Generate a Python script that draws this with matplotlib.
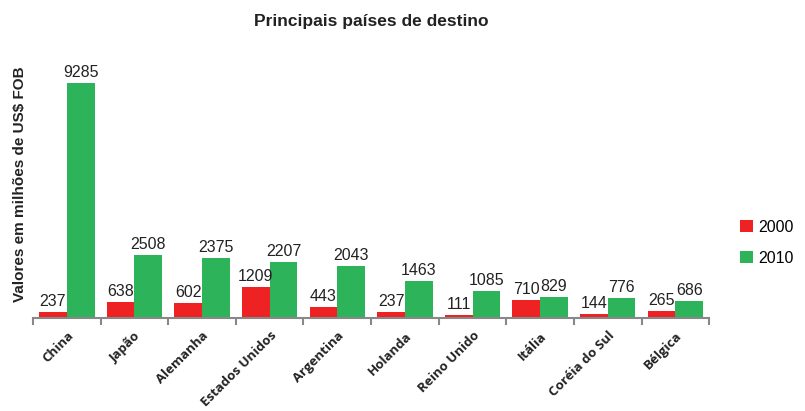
import matplotlib
matplotlib.use("Agg")
import matplotlib.pyplot as plt
import numpy as np

paises = ["China", "Japão", "Alemanha", "Estados Unidos", "Argentina",
          "Holanda", "Reino Unido", "Itália", "Coréia do Sul", "Bélgica"]
v2000 = [237, 638, 602, 1209, 443, 237, 111, 710, 144, 265]
v2010 = [9285, 2508, 2375, 2207, 2043, 1463, 1085, 829, 776, 686]

RED = "#ee2222"
GREEN = "#2db35a"

fig = plt.figure(figsize=(8.05, 4.11), dpi=100)
fig.patch.set_facecolor("white")
ax = fig.add_axes([0.041, 0.226, 0.840, 0.678])

x = np.arange(len(paises))
w = 0.41
b1 = ax.bar(x - w / 2, v2000, w, color=RED, label="2000")
b2 = ax.bar(x + w / 2, v2010, w, color=GREEN, label="2010")

for bars, vals in ((b1, v2000), (b2, v2010)):
    for r, v in zip(bars, vals):
        ax.text(r.get_x() + r.get_width() / 2, v + 120, str(v),
                ha="center", va="bottom", fontsize=11.5, color="#222222",
                family="Liberation Sans")

ax.set_xlim(-0.5, len(paises) - 0.5)
ax.set_ylim(0, 11000)
for s in ("top", "right", "left"):
    ax.spines[s].set_visible(False)
ax.spines["bottom"].set_color("#888888")
ax.spines["bottom"].set_linewidth(1.5)
ax.set_yticks([])

# tick marks at category boundaries, labels at centers
ax.set_xticks(np.arange(len(paises) + 1) - 0.5)
ax.set_xticklabels([])
ax.tick_params(axis="x", which="major", length=5, width=1.5, color="#888888")
ax.set_xticks(x, minor=True)
ax.set_xticklabels(paises, minor=True, rotation=45, ha="right",
                   rotation_mode="anchor", fontsize=9.5, fontweight="bold",
                   family="Open Sans", color="#222222")
ax.tick_params(axis="x", which="minor", length=0, pad=8)

ax.set_ylabel("Valores em milhões de US$ FOB", fontsize=11, fontweight="bold",
              family="Liberation Sans", color="#222222", labelpad=4, y=0.48)

fig.text(0.461, 0.947, "Principais países de destino", ha="center", va="center",
         fontsize=12.5, fontweight="bold", family="Liberation Sans", color="#222222")

ax.legend(loc="center left", bbox_to_anchor=(1.025, 0.27), frameon=False,
          handlelength=0.8, handleheight=0.8, handletextpad=0.3,
          labelspacing=1.0, prop={"family": "Liberation Sans", "size": 11.5})

fig.savefig("out.png", dpi=100, facecolor="white")
